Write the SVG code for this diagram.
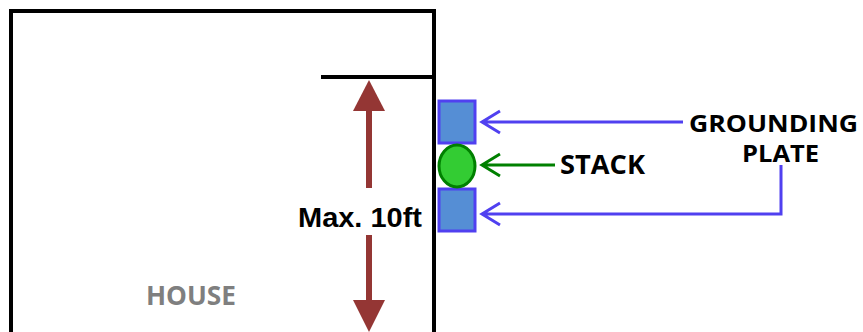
<svg xmlns="http://www.w3.org/2000/svg" width="863" height="332" viewBox="0 0 863 332">
<style>
.lbl{font-family:"Open Sans","Liberation Sans",sans-serif;font-weight:bold;fill:#000;font-size:26px}
.gp{font-size:24px}
.house{font-family:"Open Sans","Liberation Sans",sans-serif;font-weight:bold;fill:#7f7f7f;font-size:26px}
.blue{stroke:#5040f0;stroke-width:3;fill:none}
.green{stroke:#008000;stroke-width:3;fill:none}
</style>
<rect width="863" height="332" fill="#fff"/>
<g id="house">
<path d="M11,334 V11 H434 V334" fill="none" stroke="#000" stroke-width="4"/>
<line x1="321" y1="77" x2="434" y2="77" stroke="#000" stroke-width="4"/>
<text class="house" x="146" y="305" textLength="90" lengthAdjust="spacingAndGlyphs">HOUSE</text>
</g>
<g id="dimension">
<line x1="369" y1="108" x2="369" y2="188" stroke="#943634" stroke-width="6"/>
<polygon points="369,80 353,111 385,111" fill="#943634"/>
<line x1="369" y1="235" x2="369" y2="302" stroke="#943634" stroke-width="6"/>
<polygon points="369,332 353,300 385,300" fill="#943634"/>
<text x="298" y="227" textLength="124" lengthAdjust="spacingAndGlyphs" font-family="Liberation Sans, Arial, sans-serif" font-weight="bold" font-size="27">Max. 10ft</text>
</g>
<g id="plate1"><rect x="439" y="101" width="36" height="42" fill="#558ed5" stroke="#5040f0" stroke-width="3"/></g>
<g id="plate2"><rect x="439" y="189" width="36" height="42" fill="#558ed5" stroke="#5040f0" stroke-width="3"/></g>
<g id="stack"><ellipse cx="457" cy="166" rx="18" ry="21" fill="#33cc33" stroke="#008000" stroke-width="3"/></g>
<g id="connectors">
<path class="blue" d="M683,122 H482 M500,111 L482,122 L500,133"/>
<path class="blue" d="M781,165 V214 H482 M500,203 L482,214 L500,225"/>
<path class="green" d="M555,165 H482 M500,154 L482,165 L500,176"/>
</g>
<g id="labels">
<text class="lbl" x="560" y="174" textLength="85" lengthAdjust="spacingAndGlyphs">STACK</text>
<text class="lbl gp" x="689" y="132" textLength="169" lengthAdjust="spacingAndGlyphs">GROUNDING</text>
<text class="lbl gp" x="742" y="162" textLength="77" lengthAdjust="spacingAndGlyphs">PLATE</text>
</g>
</svg>
